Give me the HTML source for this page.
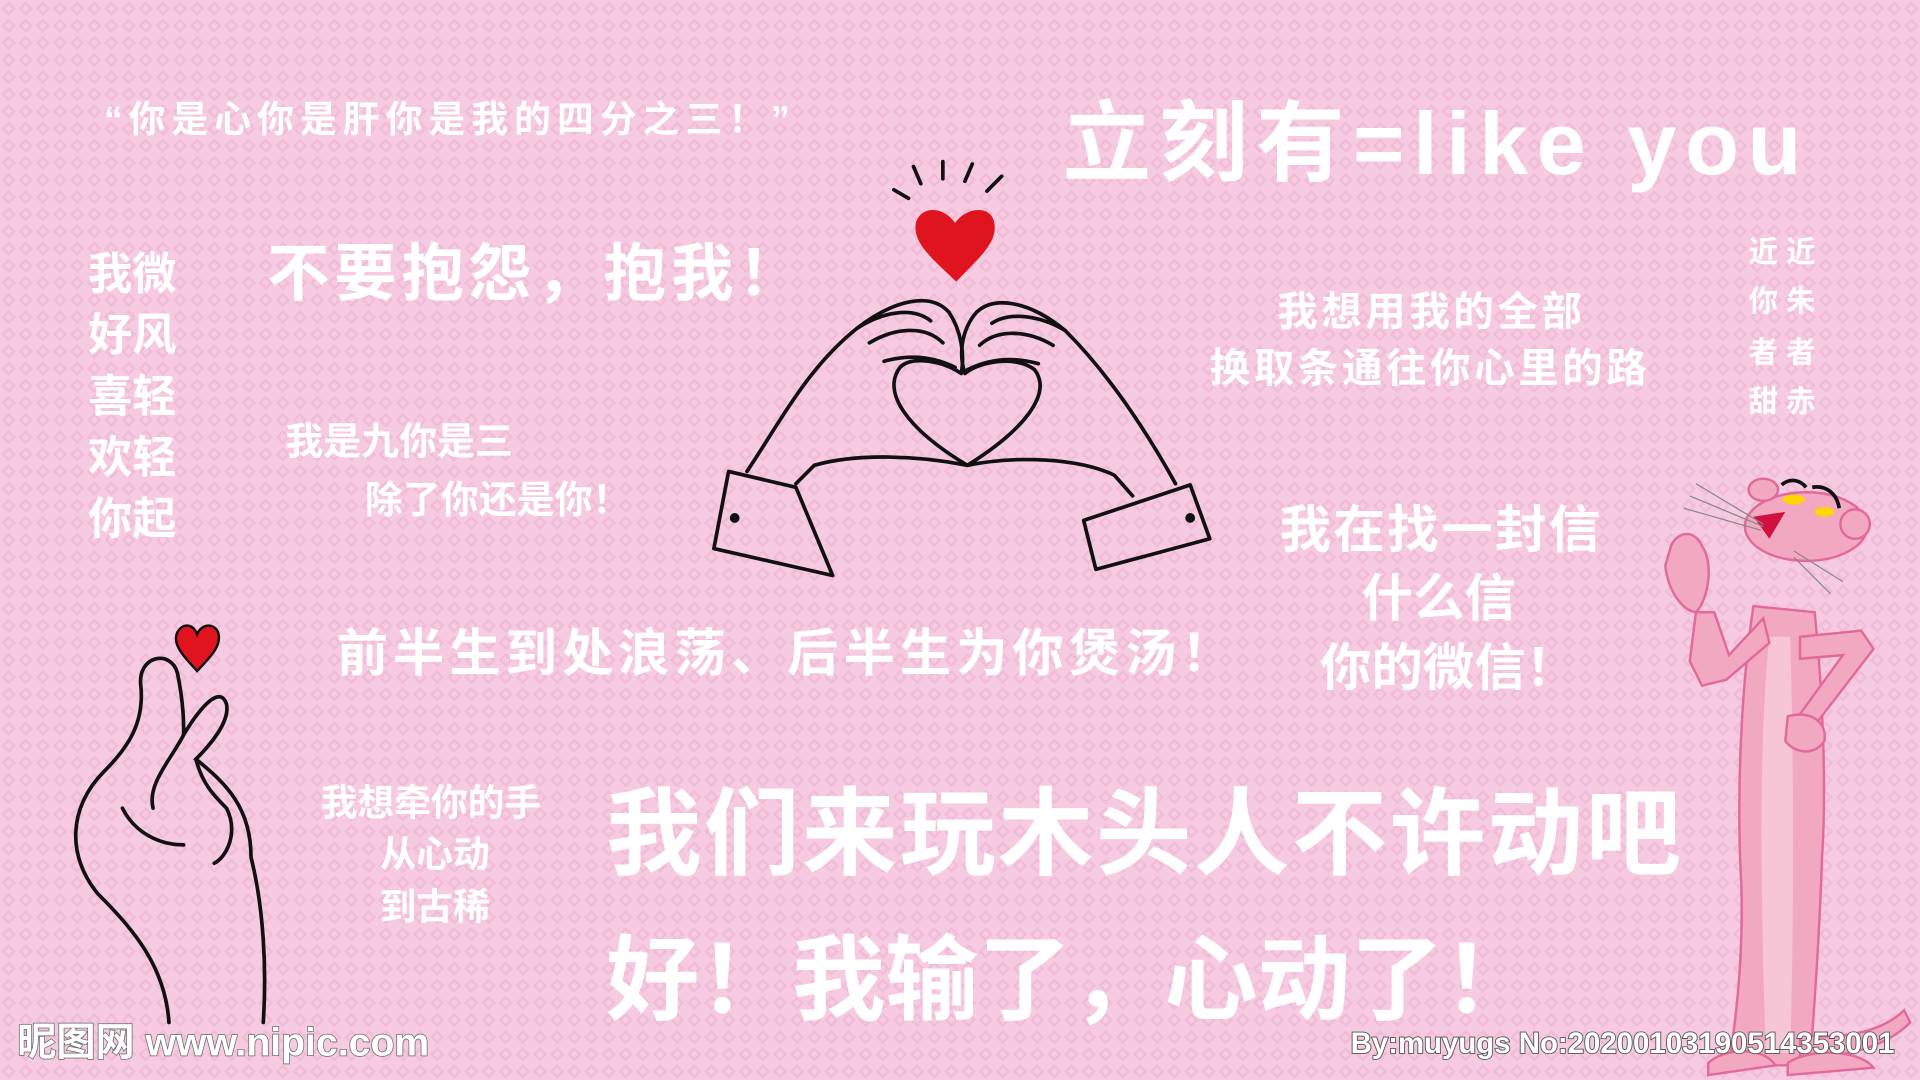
<!DOCTYPE html>
<html><head><meta charset="utf-8"><style>
html,body{margin:0;padding:0;width:1920px;height:1080px;overflow:hidden;background:#f5c8df}
svg{display:block}
text{font-family:"Liberation Sans","Noto Sans CJK SC","WenQuanYi Zen Hei",sans-serif;fill:#fff;font-weight:bold}
</style></head><body>
<svg width="1920" height="1080" viewBox="0 0 1568 882">
<defs>
<pattern id="pat" width="14" height="14" patternUnits="userSpaceOnUse">
<rect width="14" height="14" fill="#f6cbe2"/>
<path d="M7 1 L13 7 L7 13 L1 7Z" fill="#f0bcd6"/>
<path d="M7 4 L10 7 L7 10 L4 7Z" fill="#f6cbe2"/>
</pattern>
</defs>
<rect width="1568" height="882" fill="url(#pat)"/>

<text x="85" y="108" font-size="30" letter-spacing="5">“你是心你是肝你是我的四分之三！”</text>
<text x="868" y="142" font-size="72" letter-spacing="7">立刻有=like you</text>

<g font-size="36">
<text x="72" y="236">我微</text><text x="72" y="286">好风</text><text x="72" y="336">喜轻</text><text x="72" y="386">欢轻</text><text x="72" y="436">你起</text>
</g>
<text x="218" y="241" font-size="51" letter-spacing="4">不要抱怨，抱我！</text>
<text x="1043" y="266" font-size="33" letter-spacing="3">我想用我的全部</text>
<text x="988" y="312" font-size="33" letter-spacing="3">换取条通往你心里的路</text>
<g font-size="24">
<text x="1428" y="214">近 近</text><text x="1428" y="254">你 朱</text><text x="1428" y="296">者 者</text><text x="1428" y="336">甜 赤</text>
</g>
<text x="233" y="371" font-size="31">我是九你是三</text>
<text x="298" y="419" font-size="31">除了你还是你！</text>
<text x="1045" y="447" font-size="42" letter-spacing="2">我在找一封信</text>
<text x="1112" y="503" font-size="42">什么信</text>
<text x="1078" y="560" font-size="42">你的微信！</text>
<text x="275" y="548" font-size="42" letter-spacing="4">前半生到处浪荡、后半生为你煲汤！</text>
<text x="262" y="666" font-size="30">我想牵你的手</text>
<text x="310" y="708" font-size="30">从心动</text>
<text x="310" y="751" font-size="30">到古稀</text>
<text x="495" y="708" font-size="78" letter-spacing="2">我们来玩木头人不许动吧</text>
<text x="495" y="827" font-size="76" letter-spacing="0">好！我输了，心动了！</text>

<!-- heart hands -->
<g fill="none" stroke="#111" stroke-width="3" stroke-linejoin="round" stroke-linecap="round">
<path d="M742 162 L730 155 M752 150 L746 136 M770 146 L770 132 M788 148 L794 134 M806 156 L818 144"/>
<path d="M781 230 C760 210 745 198 748 182 C752 168 770 168 780 182 C790 168 810 168 812 182 C815 198 800 210 781 230Z" fill="#e0141e" stroke="none"/>
<path d="M610 385 C640 340 660 300 700 268 C730 245 760 238 775 255 C785 270 788 290 785 305 C770 295 745 290 735 300 C720 320 740 350 790 380 C750 372 700 370 665 380 L650 395"/>
<path d="M700 268 C720 255 745 250 760 262 M710 280 C730 268 755 265 770 280 M722 295 C740 290 760 290 780 300"/>
<path d="M960 395 C935 350 905 305 870 270 C840 245 808 240 795 258 C785 272 783 290 788 305 C800 295 830 290 845 302 C860 322 835 352 790 380 C830 372 880 374 910 388 L925 405"/>
<path d="M870 270 C850 258 825 254 810 264 M860 282 C840 270 815 268 800 282 M848 297 C830 292 810 292 790 302"/>
<path d="M595 385 L650 398 L680 470 L583 448Z"/>
<path d="M885 425 L972 396 L988 440 L895 465Z"/>
<circle cx="600" cy="423" r="2.5" fill="#111"/><circle cx="972" cy="423" r="2.5" fill="#111"/>
</g>

<!-- small heart hand -->
<g fill="none" stroke="#111" stroke-width="3" stroke-linecap="round">
<path d="M161 548 C150 536 140 526 145 516 C150 508 158 510 161 518 C164 510 174 508 178 516 C182 528 170 538 161 548Z" fill="#e0141e" stroke="#111" stroke-width="2"/>
<path d="M138 835 C135 790 110 760 80 730 C55 700 55 660 85 630 C105 610 118 590 115 560 C112 535 140 530 145 550 C150 575 150 590 150 600 C165 575 180 560 185 575 C188 590 170 610 160 620 C185 640 205 660 205 700 C215 740 218 790 215 835"/>
<path d="M150 600 C140 620 120 640 125 660 M160 620 C165 640 175 650 185 660 C195 680 185 700 175 705 M100 660 C110 680 130 690 150 690"/>
</g>

<!-- pink panther -->
<g stroke="#e26a9a" stroke-width="2" fill="#f3a8c2">
<path d="M1432 495 C1422 560 1418 650 1422 720 C1424 780 1418 830 1412 870 L1478 870 C1482 820 1486 760 1488 700 C1492 640 1488 560 1482 500Z"/>
<path d="M1445 520 C1437 600 1437 700 1442 860 L1462 860 C1465 760 1465 620 1462 520Z" fill="#f7c6d6" stroke="none"/>
<path d="M1385 500 L1380 540 L1390 560 L1410 555 L1445 525 L1440 505 L1412 535 L1400 500Z"/>
<path d="M1470 520 L1520 515 L1530 530 L1480 595 L1465 590 L1505 535 L1470 538Z"/>
<path d="M1460 585 C1480 580 1492 590 1490 605 C1482 618 1465 615 1458 605Z"/>
<path d="M1365 445 C1372 432 1385 434 1390 446 C1400 460 1395 490 1385 500 C1372 498 1362 480 1360 462Z"/>
<ellipse cx="1475" cy="430" rx="50" ry="28"/>
<ellipse cx="1440" cy="400" rx="12" ry="9"/><ellipse cx="1515" cy="428" rx="12" ry="12"/>
<path d="M1432 422 L1458 418 L1445 440Z" fill="#d01040" stroke="none"/>
<ellipse cx="1465" cy="408" rx="9" ry="4" fill="#ffd600" stroke="none"/><ellipse cx="1490" cy="418" rx="8" ry="4" fill="#ffd600" stroke="none"/>
<path d="M1455 396 C1462 390 1470 392 1475 398 M1480 398 C1490 396 1500 402 1502 415" stroke="#111" stroke-width="3" fill="none"/>
<path d="M1380 405 L1440 430 M1375 415 L1438 433 M1385 395 L1440 428 M1465 450 L1505 475 M1465 455 L1495 485" stroke="#888" stroke-width="1" fill="none"/>
<path d="M1470 845 C1510 850 1540 840 1555 825 L1560 835 C1540 855 1505 865 1470 862Z"/>
<path d="M1395 868 C1410 855 1440 855 1450 870 L1395 878Z M1460 868 C1480 855 1520 858 1530 872 L1460 878Z"/>
</g>

<text x="14" y="862" font-size="32" style="fill:#fff;stroke:#666;stroke-width:1.2;paint-order:stroke">昵图网 www.nipic.com</text>
<text x="1103" y="860" font-size="24" style="fill:#fff;stroke:#555;stroke-width:1.5;paint-order:stroke">By:muyugs No:20200103190514353001</text>
</svg>
</body></html>
